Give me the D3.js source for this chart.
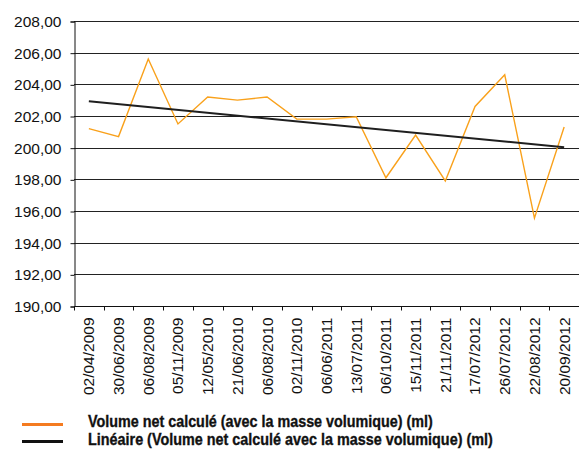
<!DOCTYPE html>
<html>
<head>
<meta charset="utf-8">
<script src="https://cdn.jsdelivr.net/npm/d3@7"></script>
<style>
  body { margin: 0; background: #fff; }
  svg { display: block; }
  .tick-lbl { font-family: "Liberation Sans", Arial, sans-serif; font-size: 15.5px; fill: #111; }
  .leg { font-family: "Liberation Sans Narrow", "Liberation Sans", Arial, sans-serif; font-weight: 700; font-size: 16.5px; fill: #111; stroke: #111; stroke-width: 0.35px; }
</style>
</head>
<body>
<svg id="chart" width="579" height="450"></svg>
<script>
// dates on the x axis
var dates = ['02/04/2009','30/06/2009','06/08/2009','05/11/2009','12/05/2010','21/06/2010',
  '06/08/2010','02/11/2010','06/06/2011','13/07/2011','06/10/2011','15/11/2011',
  '21/11/2011','17/07/2012','26/07/2012','22/08/2012','20/09/2012'];
// volume net calculé (ml)
var volumes = [201.2, 200.7, 205.6, 201.5, 203.2, 203.0, 203.2, 201.8, 201.8, 201.95,
  198.1, 200.8, 197.9, 202.6, 204.6, 195.55, 201.3];
// linear trend, first and last date
var trend = [202.93, 200.03];
var yTicks = [190, 192, 194, 196, 198, 200, 202, 204, 206, 208];
var legendLabels = ['Volume net calculé (avec la masse volumique) (ml)',
  'Linéaire (Volume net calculé avec la masse volumique) (ml)'];

var svg = d3.select('#chart');
var plotLeft = 74, plotRight = 579, plotTop = 21, plotBottom = 306;

var x = d3.scaleBand().domain(dates).range([plotLeft, plotRight]);
var y = d3.scaleLinear().domain([190, 208]).range([plotBottom, plotTop]);
var fmt = function(v) { return d3.format('.2f')(v).replace('.', ','); };

// gridlines
svg.append('g').selectAll('line')
  .data(yTicks.filter(function(d) { return d > 190; }))
  .enter().append('line')
  .attr('x1', plotLeft).attr('x2', plotRight)
  .attr('y1', function(d) { return Math.round(y(d)) + 0.5; })
  .attr('y2', function(d) { return Math.round(y(d)) + 0.5; })
  .attr('stroke', '#222').attr('stroke-width', 1.2);

// y axis
var yAxis = svg.append('g')
  .attr('transform', 'translate(' + (plotLeft + 0.5) + ',0.5)')
  .call(d3.axisLeft(y).tickValues(yTicks).tickFormat(fmt).tickSize(4).tickPadding(9));
yAxis.select('.domain').attr('stroke', '#111');
yAxis.selectAll('.tick line').attr('stroke', '#111');
yAxis.selectAll('text').attr('class', 'tick-lbl').attr('font-size', null).attr('font-family', null).attr('fill', null);

// x axis, ticks on band boundaries
var xg = svg.append('g').attr('transform', 'translate(0,' + (plotBottom + 0.5) + ')');
xg.append('line').attr('x1', plotLeft).attr('x2', plotRight).attr('stroke', '#111');
xg.selectAll('line.tk')
  .data(dates)
  .enter().append('line')
  .attr('class', 'tk')
  .attr('x1', function(d) { return Math.round(x(d)) + 0.5; })
  .attr('x2', function(d) { return Math.round(x(d)) + 0.5; })
  .attr('y1', 0).attr('y2', 4)
  .attr('stroke', '#111');
xg.selectAll('text')
  .data(dates)
  .enter().append('text')
  .attr('class', 'tick-lbl')
  .attr('text-anchor', 'end')
  .attr('dy', '0.35em')
  .attr('transform', function(d) {
    return 'translate(' + (x(d) + x.bandwidth() / 2) + ',11)rotate(-90)';
  })
  .text(function(d) { return d; });

var cx = function(d) { return x(d) + x.bandwidth() / 2; };

// data line
svg.append('path')
  .datum(volumes)
  .attr('fill', 'none')
  .attr('stroke', '#f9a11b')
  .attr('stroke-width', 1.4)
  .attr('stroke-linejoin', 'miter')
  .attr('d', d3.line()
    .x(function(d, i) { return cx(dates[i]); })
    .y(function(d) { return y(d); }));

// trend line
svg.append('path')
  .datum(trend)
  .attr('fill', 'none')
  .attr('stroke', '#1f1f1f')
  .attr('stroke-width', 2)
  .attr('d', d3.line()
    .x(function(d, i) { return cx(dates[i === 0 ? 0 : dates.length - 1]); })
    .y(function(d) { return y(d); }));

// legend
var legColors = ['#f47b20', '#111'];
var legTargets = [345, 405];
var legLineY = [424.5, 441.5];
var legBase = [427, 445];
legendLabels.forEach(function(lbl, i) {
  svg.append('line')
    .attr('x1', 22).attr('x2', 63)
    .attr('y1', legLineY[i]).attr('y2', legLineY[i])
    .attr('stroke', legColors[i]).attr('stroke-width', 3);
  var g = svg.append('g').attr('transform', 'translate(88,' + legBase[i] + ')');
  var t = g.append('text')
    .attr('class', 'leg')
    .attr('font-weight', 'bold')
    .text(lbl);
  var w = t.node().getComputedTextLength();
  if (w > 0) t.attr('transform', 'scale(' + (legTargets[i] / w).toFixed(4) + ',1)');
});
</script>
</body>
</html>
